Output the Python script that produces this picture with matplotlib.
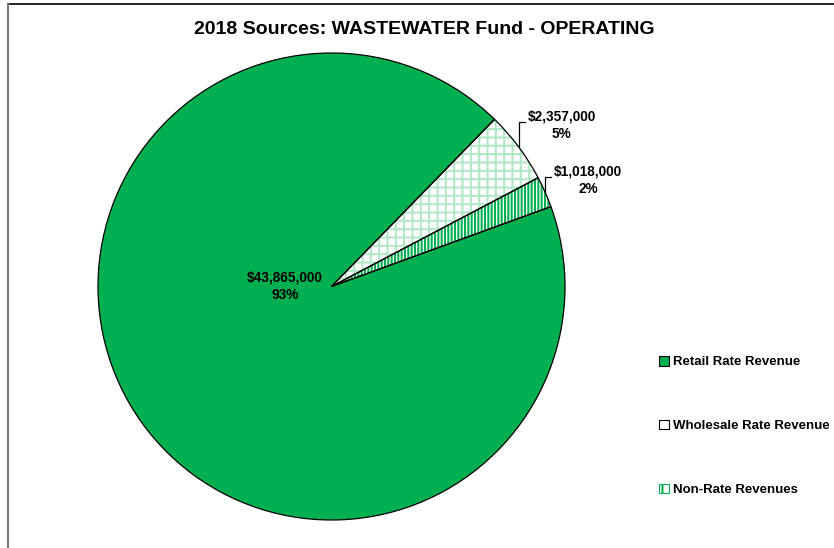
import numpy as np
import matplotlib
matplotlib.use("Agg")
import matplotlib.pyplot as plt
from matplotlib.patches import Patch
from matplotlib.lines import Line2D

plt.rcParams['font.family'] = ['Liberation Sans', 'DejaVu Sans']
plt.rcParams['font.weight'] = 'bold'
plt.rcParams['hatch.linewidth'] = 1.5

# data
kategorier = ["Retail Rate Revenue", "Wholesale Rate Revenue", "Non-Rate Revenues"]
belopp = [43865000, 2357000, 1018000]
procent_text = ["93%", "5%", "2%"]
titel = "2018 Sources: WASTEWATER Fund - OPERATING"

GRON = "#00B050"
fyllning = [GRON, "white", "white"]
monster = [None, "++", "|||||"]
monster_farg = ["black", "#B3E8C7", GRON]

W, H = 834, 548
fig = plt.figure(figsize=(W / 100, H / 100), dpi=100)

# pie axes: center (331.5, 286.5) px, radius 233.5 px
r_px = 233.5
cx, cy = 331.5, 286.5
ax = fig.add_axes([(cx - r_px) / W, (H - cy - r_px) / H, 2 * r_px / W, 2 * r_px / H])

kilar, _ = ax.pie(belopp, colors=fyllning, startangle=20, counterclock=False,
                  radius=1, wedgeprops=dict(linewidth=0))
for k, m, mf in zip(kilar, monster, monster_farg):
    if m:
        k.set_hatch(m)
        k.set_edgecolor(mf)
# black outlines on top
ax.pie(belopp, colors=["none"] * 3, startangle=20, counterclock=False, radius=1,
       wedgeprops=dict(linewidth=0.9, edgecolor="black", fill=False))
ax.set_xlim(-1, 1)
ax.set_ylim(-1, 1)
ax.set_aspect("equal")
ax.axis("off")

def pengar(v):
    return "${:,.0f}".format(v)

# retail label inside
ax.text(-0.2, 0.0, pengar(belopp[0]) + "\n" + procent_text[0], ha="center", va="center",
        fontsize=9.8, fontweight="bold", linespacing=1.3)

# outside labels with elbow leaders
hojd = [0.107, 0.065]
for i, h in zip([1, 2], hojd):
    k = kilar[i]
    mid = np.deg2rad((k.theta1 + k.theta2) / 2)
    x0, y0 = np.cos(mid), np.sin(mid)
    y1 = y0 + h
    ax.plot([x0, x0, x0 + 0.027], [y0, y1, y1], color="black", lw=0.9, clip_on=False)
    ax.text(x0 + 0.185, y1 - 0.014, pengar(belopp[i]) + "\n" + procent_text[i], ha="center",
            va="center", fontsize=9.8, fontweight="bold", linespacing=1.3)

fig.text(424 / W, 1 - 30 / H, titel, ha="center", va="center", fontsize=14, fontweight="bold")

handtag = [
    Patch(facecolor=fyllning[0], edgecolor="black", linewidth=0.8),
    Patch(facecolor=fyllning[1], edgecolor="black", linewidth=0.8),
    Patch(facecolor=fyllning[2], edgecolor=GRON, linewidth=0.8, hatch="||"),
]
fig.legend(handtag, kategorier, loc="center left", bbox_to_anchor=(647 / W, 1 - 426 / H),
           frameon=False, handlelength=0.75, handleheight=0.75,
           handletextpad=0.3, labelspacing=3.9, prop=dict(weight="bold", size=9.5))

# chart border (top and left visible)
fig.add_artist(Line2D([8 / W, 1], [1 - 4 / H, 1 - 4 / H], color="black", lw=1.2))
fig.add_artist(Line2D([8 / W, 8 / W], [0, 1 - 4 / H], color="#777777", lw=1.5))

fig.savefig("out.png", dpi=100)
